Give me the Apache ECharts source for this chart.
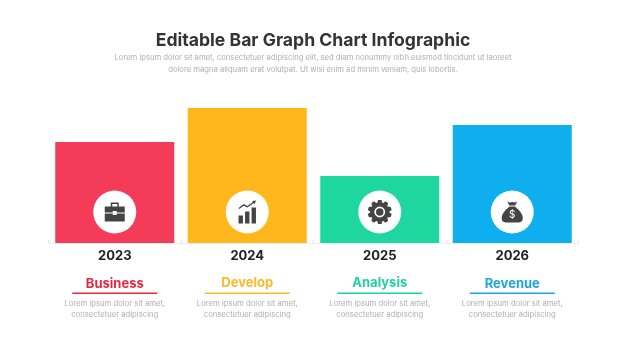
<!DOCTYPE html>
<html>
<head>
<meta charset="UTF-8">
<title>Editable Bar Graph Chart Infographic</title>
<script src="https://cdn.jsdelivr.net/npm/echarts@6/dist/echarts.min.js"></script>
<style>
    html, body { margin: 0; padding: 0; background: #fff; }
    #chart1 { width: 626px; height: 352px; }
</style>
</head>
<body>
<div id="chart1"></div>
<script type="text/javascript">
var years = ['2023', '2024', '2025', '2026'];
var values = [101, 135, 67, 118];
var names = ['Business', 'Develop', 'Analysis', 'Revenue'];
var barColors = ['#f43b57', '#ffb71b', '#1dd6a0', '#0eaeef'];
var nameColors = ['#e5283f', '#fdb92c', '#1fd1a0', '#1ba6e0'];
var captions = 'Lorem ipsum dolor sit amet,\nconsectetuer adipiscing';
var titleText = 'Editable Bar Graph Chart Infographic';
var subText = 'Lorem ipsum dolor sit amet, consectetuer adipiscing elit, sed diam nonummy nibh euismod tincidunt ut laoreet\ndolore magna aliquam erat volutpat. Ut wisi enim ad minim veniam, quis lobortis.';

var font = 'Inter';
var iconY = 31; // icon height above the baseline, axis units

// gear outline with ring hole, built once so the teeth are even
function gearPath() {
    var p = '', n = 10;
    for (var i = 0; i < n; i++) {
        var a = i / n * Math.PI * 2;
        var pts = [[9.6, a - 0.26], [12, a - 0.14], [12, a + 0.14], [9.6, a + 0.26]];
        pts.forEach(function (q, j) {
            p += (i === 0 && j === 0 ? 'M' : 'L') + (12 + q[0] * Math.sin(q[1])).toFixed(2) + ' ' + (12 - q[0] * Math.cos(q[1])).toFixed(2);
        });
    }
    p += 'Z';
    p += 'M12 6.6A5.4 5.4 0 0 0 12 17.4A5.4 5.4 0 0 0 12 6.6Z';
    p += 'M12 8.3A3.7 3.7 0 0 1 12 15.7A3.7 3.7 0 0 1 12 8.3Z';
    return 'path://' + p;
}

var icons = [
    'path://M6 5V1H14V5H12.5V2.5H7.5V5ZM0 5H20V11H12V9.5H8V11H0ZM0 12H8V13.5H12V12H20V20H0Z',
    'path://M0 15H5V23H0ZM7.5 11H12.5V23H7.5ZM15 7H20V23H15ZM0 7.6L6 3.6L10 5.4L16.5 1.6L15.8 0.4L20 0L18.5 3.8L17.6 2.6L10 7L6 5.2L0.7 8.6Z',
    gearPath(),
    'path://M5.5 0C7.5 1.2 8.5 1.2 10.5 0.5C12.5 1.2 13.5 1.2 15.5 0L13.5 4H7.5ZM7.8 5H13.2C17 8 21 12 21 16.5C21 20 19 21 16 21H5C2 21 0 20 0 16.5C0 12 4 8 7.8 5Z'
];
var iconSizes = [[20, 20], [20, 23], [24, 24], [21, 21]];

var chart1 = echarts.init(document.getElementById('chart1'));

var option = {
    animation: false,
    backgroundColor: '#fff',
    title: {
        text: titleText,
        subtext: subText,
        left: 'center',
        top: 27,
        itemGap: 2,
        textStyle: { fontFamily: font, fontSize: 17.6, fontWeight: 700, color: '#333' },
        subtextStyle: { fontFamily: font, fontSize: 7.65, color: '#b0b0b0', lineHeight: 12, align: 'center' }
    },
    grid: { left: 48.5, right: 47.5, top: 83, bottom: 109 },
    xAxis: {
        type: 'category',
        data: years,
        axisLine: { lineStyle: { color: '#eee' } },
        axisTick: { show: true, inside: true, length: 3, lineStyle: { color: '#e6e6e6' } },
        axisLabel: { margin: 7, fontFamily: font, fontSize: 13, fontWeight: 700, color: '#222' }
    },
    yAxis: { type: 'value', min: 0, max: 160, show: false },
    series: [
        {
            type: 'bar',
            barWidth: 119,
            data: values.map(function (v, i) {
                return { value: v, itemStyle: { color: barColors[i] } };
            })
        },
        {
            type: 'scatter',
            symbol: 'circle',
            symbolSize: 43,
            itemStyle: { color: '#fff', opacity: 1 },
            z: 3,
            data: years.map(function (y) { return [y, iconY]; })
        },
        {
            type: 'scatter',
            z: 4,
            symbolKeepAspect: true,
            itemStyle: { color: '#444', opacity: 1 },
            data: years.map(function (y, i) {
                var d = { value: [y, iconY], symbol: icons[i], symbolSize: iconSizes[i] };
                if (i === 3) {
                    d.label = { show: true, position: 'inside', offset: [0, 3], formatter: '$', color: '#fff', fontFamily: font, fontSize: 10, fontWeight: 400 };
                }
                return d;
            })
        }
    ]
};
chart1.setOption(option);

// captions under the axis follow the category centres
var nameTops = [284, 283, 283, 284];
var graphic = [];
years.forEach(function (y, i) {
    var cx = chart1.convertToPixel({ xAxisIndex: 0 }, y);
    graphic.push({
        type: 'text', x: cx, y: nameTops[i], silent: true,
        style: { text: names[i], align: 'center', verticalAlign: 'middle', fontFamily: font, fontSize: 13, fontWeight: 700, fill: nameColors[i] }
    });
    graphic.push({
        type: 'rect', silent: true,
        shape: { x: cx - 42.5, y: 292.6, width: 85, height: 1.4 },
        style: { fill: nameColors[i] }
    });
    graphic.push({
        type: 'text', x: cx, y: 303.5, silent: true,
        style: { text: captions.split('\n')[0], align: 'center', verticalAlign: 'middle', fontFamily: font, fontSize: 7.7, fill: '#b0b0b0' }
    });
    graphic.push({
        type: 'text', x: cx, y: 315, silent: true,
        style: { text: captions.split('\n')[1], align: 'center', verticalAlign: 'middle', fontFamily: font, fontSize: 7.7, fill: '#b0b0b0' }
    });
});
chart1.setOption({ graphic: graphic });
</script>
</body>
</html>
